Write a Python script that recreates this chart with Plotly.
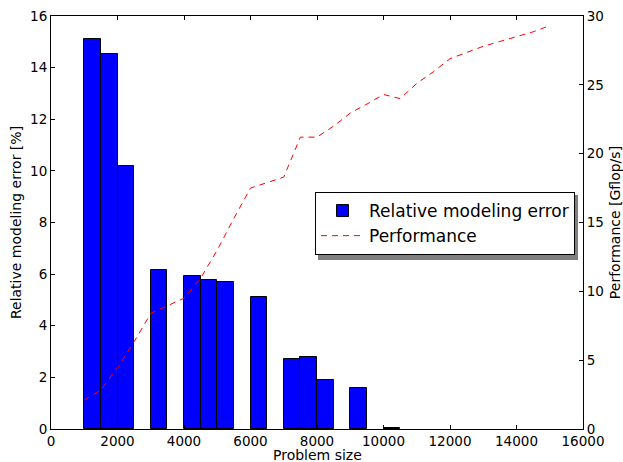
import plotly.graph_objects as go

# Data
bar_sizes = [1000, 1500, 2000, 3000, 4000, 4500, 5000, 6000, 7000, 7500, 8000, 9000, 10000]
bar_errors = [15.1, 14.53, 10.2, 6.15, 5.94, 5.77, 5.70, 5.13, 2.70, 2.78, 1.91, 1.58, 0.03]

perf_sizes = [1000, 1500, 2000, 2500, 3000, 3500, 4000, 4500, 5000, 5500, 6000, 6500, 7000,
              7500, 8000, 8500, 9000, 9500, 10000, 10500, 11000, 11500, 12000, 12500,
              13000, 13500, 14000, 14500, 15000]
perf_values = [2.1, 2.83, 4.45, 6.34, 8.4, 8.95, 9.5, 10.95, 13.0, 15.3, 17.5, 17.9, 18.3,
               21.2, 21.2, 22.0, 22.95, 23.6, 24.3, 24.0, 25.1, 25.95, 26.9, 27.35,
               27.8, 28.15, 28.5, 28.85, 29.3]

x_ticks = [0, 2000, 4000, 6000, 8000, 10000, 12000, 14000, 16000]
x_tick_labels = [str(v) for v in x_ticks]

FONT = "DejaVu Sans"
W, H = 623, 462
ML, MR, MT, MB = 51, 40, 16, 33
PW, PH = W - ML - MR, H - MT - MB

def px_to_paper_x(px):
    return (px - ML) / PW

def px_to_paper_y(py):
    return (H - MB - py) / PH

fig = go.Figure()
fig.add_trace(go.Bar(
    x=bar_sizes, y=bar_errors, width=500, offset=0,
    marker=dict(color="#0000ff", line=dict(color="black", width=1)),
    name="Relative modeling error", yaxis="y",
))
fig.add_trace(go.Scatter(
    x=perf_sizes, y=perf_values, mode="lines",
    line=dict(color="#ff0000", width=1, dash="6px,5px"),
    name="Performance", yaxis="y2",
))

axis_common = dict(
    showline=True, linecolor="black", linewidth=1,
    ticks="inside", ticklen=4, tickcolor="black", tickwidth=1,
    showgrid=False, zeroline=False, automargin=False,
    tickfont=dict(family=FONT, size=13.5, color="black"),
)

# legend shadow (matplotlib-style drop shadow)
legend_left, legend_top = 315, 192
fig.add_shape(
    type="rect", xref="paper", yref="paper", layer="above",
    x0=px_to_paper_x(legend_left + 3), x1=px_to_paper_x(legend_left + 263),
    y0=px_to_paper_y(legend_top + 3), y1=px_to_paper_y(legend_top + 68),
    fillcolor="rgba(0,0,0,0.5)", line=dict(width=0),
)

# x-axis title
fig.add_annotation(
    text="Problem size", xref="paper", yref="paper",
    x=0.5, y=px_to_paper_y(445), xanchor="center", yanchor="top",
    showarrow=False, font=dict(family=FONT, size=14, color="black"),
)

fig.update_layout(
    width=W, height=H,
    margin=dict(l=ML, r=MR, t=MT, b=MB),
    paper_bgcolor="white", plot_bgcolor="white",
    font=dict(family=FONT, size=14, color="black"),
    showlegend=True,
    bargap=0,
    xaxis=dict(range=[0, 16000], tickvals=x_ticks, ticktext=x_tick_labels, mirror="ticks",
               **axis_common),
    yaxis=dict(range=[0, 16], dtick=2,
               title=dict(text="Relative modeling error [%]", standoff=5, font=dict(size=14)),
               **axis_common),
    yaxis2=dict(range=[0, 30], dtick=5, overlaying="y", side="right",
                title=dict(text="Performance [Gflop/s]", standoff=8, font=dict(size=14)),
                **axis_common),
    legend=dict(
        x=px_to_paper_x(legend_left), y=px_to_paper_y(legend_top),
        xanchor="left", yanchor="top",
        bgcolor="white", bordercolor="black", borderwidth=1,
        font=dict(family=FONT, size=17, color="black"),
        tracegroupgap=0, itemwidth=43,
    ),
)

fig.write_html("out.html", config={"displayModeBar": False},
               post_script="document.body.style.margin='0';")
